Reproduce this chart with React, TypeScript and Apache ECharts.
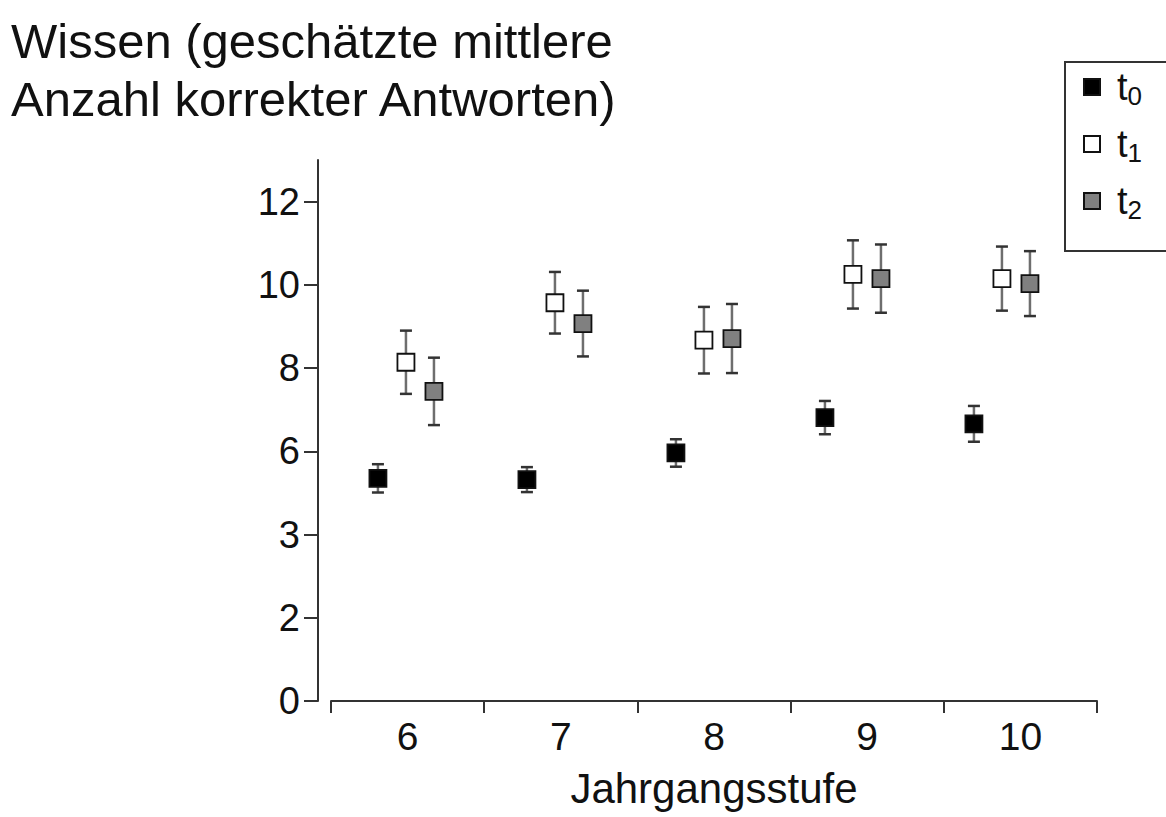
import React, { useEffect, useRef } from "react";
import * as echarts from "echarts";

const grades = ["6", "7", "8", "9", "10"];
const yTickLabels = ["0", "2", "3", "6", "8", "10", "12"];
const seriesNames = ["t0", "t1", "t2"];
const t0Mean = [5.35, 5.32, 5.96, 6.81, 6.66];
const t0Err = [0.34, 0.3, 0.33, 0.4, 0.43];
const t1Mean = [8.14, 9.57, 8.67, 10.25, 10.15];
const t1Err = [0.76, 0.74, 0.8, 0.82, 0.77];
const t2Mean = [7.44, 9.07, 8.71, 10.15, 10.03];
const t2Err = [0.81, 0.79, 0.83, 0.82, 0.78];

const FONT = "'Liberation Sans', Arial, sans-serif";

export default function App() {
  const ref = useRef<HTMLDivElement>(null);
  useEffect(() => {
    if (!ref.current) return;
    const chart = echarts.init(ref.current, null, { renderer: "svg" });
    const means = [t0Mean, t1Mean, t2Mean];
    const errs = [t0Err, t1Err, t2Err];
    const offsets = [-0.188, 0, 0.188];
    const fills = ["#000000", "#ffffff", "#808080"];

    const errorSeries: any[] = means.map((m, s) => ({
      type: "custom",
      name: seriesNames[s] + "_err",
      xAxisIndex: 1,
      yAxisIndex: 0,
      z: 2,
      silent: true,
      data: m.map((v, i) => [i + offsets[s], v - errs[s][i], v + errs[s][i]]),
      renderItem: (params: any, api: any) => {
        const x = api.value(0);
        const lo = api.coord([x, api.value(1)]);
        const hi = api.coord([x, api.value(2)]);
        const hw = 6;
        return {
          type: "group",
          children: [
            {
              type: "line",
              shape: { x1: lo[0], y1: lo[1], x2: hi[0], y2: hi[1] },
              style: { stroke: "#6e6e6e", lineWidth: 2.5 },
            },
            {
              type: "line",
              shape: { x1: lo[0] - hw, y1: lo[1], x2: lo[0] + hw, y2: lo[1] },
              style: { stroke: "#333333", lineWidth: 2.5 },
            },
            {
              type: "line",
              shape: { x1: hi[0] - hw, y1: hi[1], x2: hi[0] + hw, y2: hi[1] },
              style: { stroke: "#333333", lineWidth: 2.5 },
            },
          ],
        };
      },
    }));

    const scatterSeries: any[] = means.map((m, s) => ({
      type: "scatter",
      name: seriesNames[s],
      xAxisIndex: 1,
      yAxisIndex: 0,
      z: 5,
      symbol: "rect",
      symbolSize: 17,
      itemStyle: { color: fills[s], borderColor: "#111111", borderWidth: 1.8, opacity: 1 },
      data: m.map((v, i) => [i + offsets[s], v]),
    }));

    chart.setOption({
      animation: false,
      backgroundColor: "#ffffff",
      textStyle: { fontFamily: FONT },
      graphic: [
        {
          type: "text",
          left: 11,
          top: 12,
          style: {
            text: "Wissen (geschätzte mittlere\nAnzahl korrekter Antworten)",
            fontSize: 49,
            fontFamily: FONT,
            lineHeight: 58,
            fill: "#111111",
          },
        },
      ],
      legend: {
        orient: "vertical",
        left: 1065,
        top: 62,
        padding: [6, 60, 28, 18],
        borderColor: "#333333",
        borderWidth: 2,
        itemWidth: 16,
        itemHeight: 16,
        itemGap: 16,
        icon: "rect",
        data: seriesNames,
        formatter: (name: string) => `{t|t}{s|${name.slice(1)}}`,
        textStyle: {
          rich: {
            t: { fontSize: 38, lineHeight: 44, fontFamily: FONT, color: "#111111", padding: [0, 0, 0, 12] },
            s: { fontSize: 26, lineHeight: 16, fontFamily: FONT, color: "#111111", verticalAlign: "bottom" },
          },
        },
      },
      grid: { left: 331, right: 69, top: 160, bottom: 116, containLabel: false },
      xAxis: [
        {
          type: "category",
          data: grades,
          boundaryGap: true,
          position: "bottom",
          axisLine: { show: true, onZero: false, lineStyle: { color: "#333333", width: 2 } },
          axisTick: { show: true, length: 12, lineStyle: { color: "#333333", width: 2 } },
          axisLabel: { fontSize: 39, color: "#111111", margin: 16, fontFamily: FONT },
          splitLine: { show: false },
          name: "Jahrgangsstufe",
          nameLocation: "middle",
          nameGap: 66,
          nameTextStyle: { fontSize: 42, color: "#111111", fontFamily: FONT },
        },
        {
          type: "value",
          show: false,
          min: -0.503,
          max: 4.638,
          gridIndex: 0,
        },
      ],
      yAxis: [
        {
          type: "value",
          min: 0,
          max: 13,
          interval: 2,
          offset: 13,
          position: "left",
          axisLine: { show: true, onZero: false, lineStyle: { color: "#333333", width: 2 } },
          axisTick: { show: true, length: 14, lineStyle: { color: "#333333", width: 2 } },
          axisLabel: {
            fontSize: 38,
            color: "#111111",
            margin: 18,
            fontFamily: FONT,
            showMaxLabel: false,
            formatter: (v: number) => yTickLabels[Math.round(v / 2)] ?? "",
          },
          splitLine: { show: false },
        },
      ],
      series: [...errorSeries, ...scatterSeries],
    });
    return () => chart.dispose();
  }, []);
  return (
    <div
      ref={ref}
      style={{ position: "fixed", left: 0, top: 0, width: 1166, height: 817, background: "#fff" }}
    />
  );
}
